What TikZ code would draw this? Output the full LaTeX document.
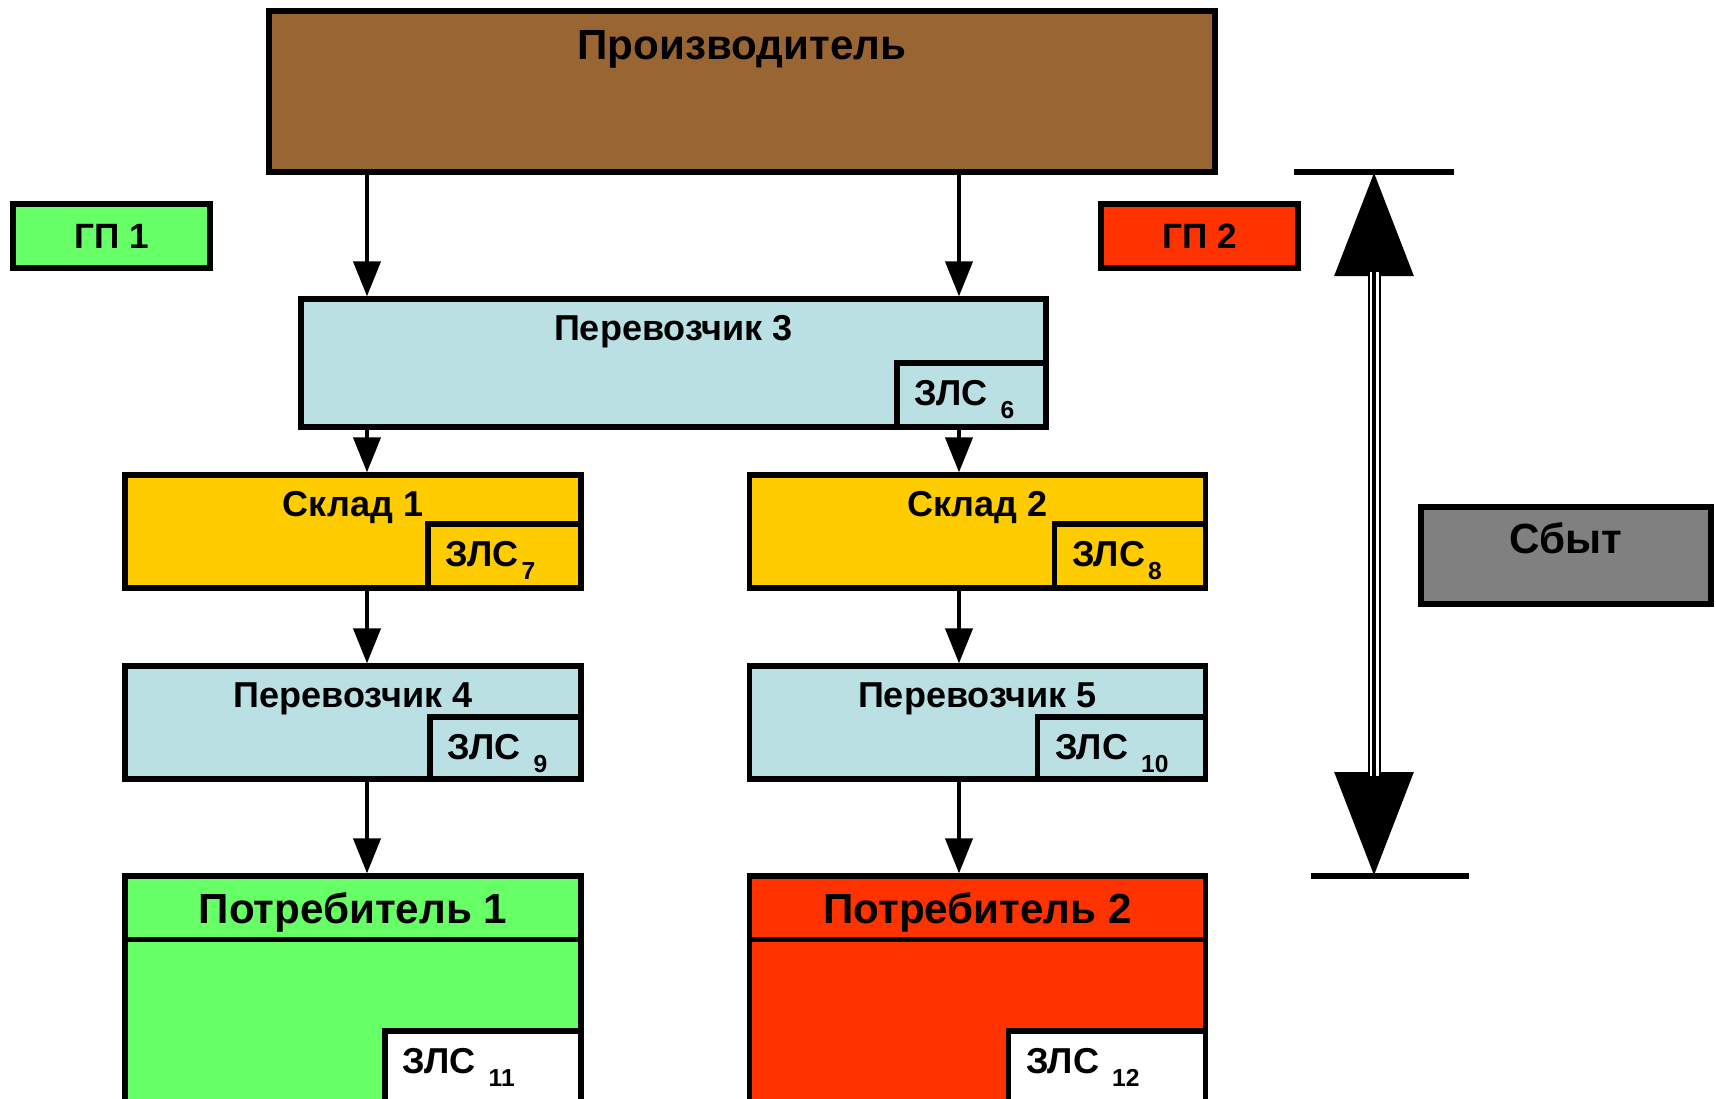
\documentclass[tikz,border=0pt]{standalone}
\usepackage{fontspec}
\setmainfont{Liberation Sans}
\usetikzlibrary{arrows.meta}
\definecolor{prodbrown}{HTML}{996633}
\definecolor{gpgreen}{HTML}{66FF66}
\definecolor{gpred}{HTML}{FF3300}
\definecolor{carrierblue}{HTML}{BBE0E3}
\definecolor{storeyellow}{HTML}{FFCC00}
\definecolor{salesgray}{HTML}{808080}
\tikzstyle{block} = [rectangle, draw, line width=3pt, inner sep=0pt]
\tikzstyle{title} = [anchor=base, font=\bfseries\fontsize{20.5}{24}\selectfont]
\tikzstyle{bigtitle} = [anchor=base, font=\bfseries\fontsize{24}{28}\selectfont]
\tikzstyle{zlstxt} = [anchor=base west, inner xsep=0pt, xshift=0.4cm, yshift=-0.9cm,
    font=\bfseries\fontsize{20.5}{24}\selectfont]
\tikzstyle{line} = [draw, line width=2.3pt, -{Triangle[width=0.54cm,length=0.7cm]}]
\tikzstyle{bar} = [draw, line width=0.12cm]
\newcommand{\zlsmark}[2]{ЗЛС\hspace{#1}\raisebox{-0.26cm}{\fontsize{14}{14}\selectfont #2}}

\begin{document}
\begin{tikzpicture}
  \useasboundingbox (0,0) rectangle (34.32,-21.96);
   % Place nodes
    \node [block, fill=prodbrown, minimum width=18.92cm, minimum height=3.22cm,
      label={[bigtitle, yshift=-1.02cm]north:Производитель}] (prod) at (14.84,-1.83) {};
    \node [block, fill=gpgreen, minimum width=3.94cm, minimum height=1.28cm,
      font=\bfseries\fontsize{20}{24}\selectfont] (gp1) at (2.23,-4.72) {ГП 1};
    \node [block, fill=gpred, minimum width=3.94cm, minimum height=1.28cm,
      font=\bfseries\fontsize{20}{24}\selectfont] (gp2) at (23.99,-4.72) {ГП 2};

    \node [block, fill=carrierblue, minimum width=14.9cm, minimum height=2.56cm,
      label={[title, yshift=-0.88cm]north:Перевозчик 3}] (car3) at (13.47,-7.26) {};
    \node [block, fill=carrierblue, anchor=south east, minimum width=2.98cm, minimum height=1.28cm,
      label={[zlstxt]north west:\zlsmark{0.26cm}{6}}] (zls6) at (car3.south east) {};

    \node [block, fill=storeyellow, minimum width=9.12cm, minimum height=2.26cm,
      label={[title, yshift=-0.88cm]north:Склад 1}] (store1) at (7.06,-10.63) {};
    \node [block, fill=storeyellow, anchor=south east, minimum width=3.06cm, minimum height=1.28cm,
      label={[zlstxt]north west:\zlsmark{0.06cm}{7}}] (zls7) at (store1.south east) {};
    \node [block, fill=storeyellow, minimum width=9.12cm, minimum height=2.26cm,
      label={[title, yshift=-0.88cm]north:Склад 2}] (store2) at (19.55,-10.63) {};
    \node [block, fill=storeyellow, anchor=south east, minimum width=3.02cm, minimum height=1.28cm,
      label={[zlstxt]north west:\zlsmark{0.06cm}{8}}] (zls8) at (store2.south east) {};

    \node [block, fill=carrierblue, minimum width=9.12cm, minimum height=2.26cm,
      label={[title, yshift=-0.88cm]north:Перевозчик 4}] (car4) at (7.06,-14.45) {};
    \node [block, fill=carrierblue, anchor=south east, minimum width=3.02cm, minimum height=1.24cm,
      label={[zlstxt]north west:\zlsmark{0.26cm}{9}}] (zls9) at (car4.south east) {};
    \node [block, fill=carrierblue, minimum width=9.12cm, minimum height=2.26cm,
      label={[title, yshift=-0.88cm]north:Перевозчик 5}] (car5) at (19.55,-14.45) {};
    \node [block, fill=carrierblue, anchor=south east, minimum width=3.36cm, minimum height=1.24cm,
      label={[zlstxt]north west:\zlsmark{0.26cm}{10}}] (zls10) at (car5.south east) {};

    \node [block, fill=gpgreen, minimum width=9.12cm, minimum height=4.56cm,
      label={[bigtitle, yshift=-1.0cm]north:Потребитель 1}] (cons1) at (7.06,-19.8) {};
    \node [block, fill=white, anchor=south east, minimum width=3.92cm, minimum height=1.46cm,
      label={[zlstxt]north west:\zlsmark{0.26cm}{11}}] (zls11) at (cons1.south east) {};
    \node [block, fill=gpred, minimum width=9.12cm, minimum height=4.56cm,
      label={[bigtitle, yshift=-1.0cm]north:Потребитель 2}] (cons2) at (19.55,-19.8) {};
    \node [block, fill=white, anchor=south east, minimum width=3.94cm, minimum height=1.46cm,
      label={[zlstxt]north west:\zlsmark{0.26cm}{12}}] (zls12) at (cons2.south east) {};
    \draw [line width=3pt] ([yshift=-1.32cm]cons1.north west) -- ([yshift=-1.32cm]cons1.north east);
    \draw [line width=3pt] ([yshift=-1.32cm]cons2.north west) -- ([yshift=-1.32cm]cons2.north east);

    \node [block, fill=salesgray, minimum width=5.8cm, minimum height=1.94cm,
      label={[bigtitle, yshift=-0.98cm]north:Сбыт}] (sales) at (31.32,-11.11) {};

   % Draw edges
    \coordinate (colL) at (7.34,0);
    \coordinate (colR) at (19.18,0);
    \path [line] (prod.south -| colL) -- (car3.north -| colL);
    \path [line] (prod.south -| colR) -- (car3.north -| colR);
    \path [line] (car3.south -| colL) -- (store1.north -| colL);
    \path [line] (zls6.south -| colR) -- (store2.north -| colR);
    \path [line] (store1.south -| colL) -- (car4.north -| colL);
    \path [line] (store2.south -| colR) -- (car5.north -| colR);
    \path [line] (car4.south -| colL) -- (cons1.north -| colL);
    \path [line] (car5.south -| colR) -- (cons2.north -| colR);

   % Sales range
    \coordinate (stop) at (27.48,-3.44);
    \coordinate (sbot) at (27.48,-17.52);
    \draw [line width=0.26cm, {Triangle[width=1.52cm,length=2.08cm]}-{Triangle[width=1.52cm,length=2.08cm]}]
      (stop) -- (sbot);
    \draw [white, line width=0.18cm, shorten <=2.0cm, shorten >=2.0cm] (stop) -- (sbot);
    \draw [line width=0.08cm, shorten <=2.0cm, shorten >=2.0cm] (stop) -- (sbot);
    \path [bar] ([xshift=-1.6cm]stop) -- ([xshift=1.6cm]stop);
    \path [bar] ([xshift=-1.26cm]sbot) -- ([xshift=1.9cm]sbot);
\end{tikzpicture}
\end{document}
